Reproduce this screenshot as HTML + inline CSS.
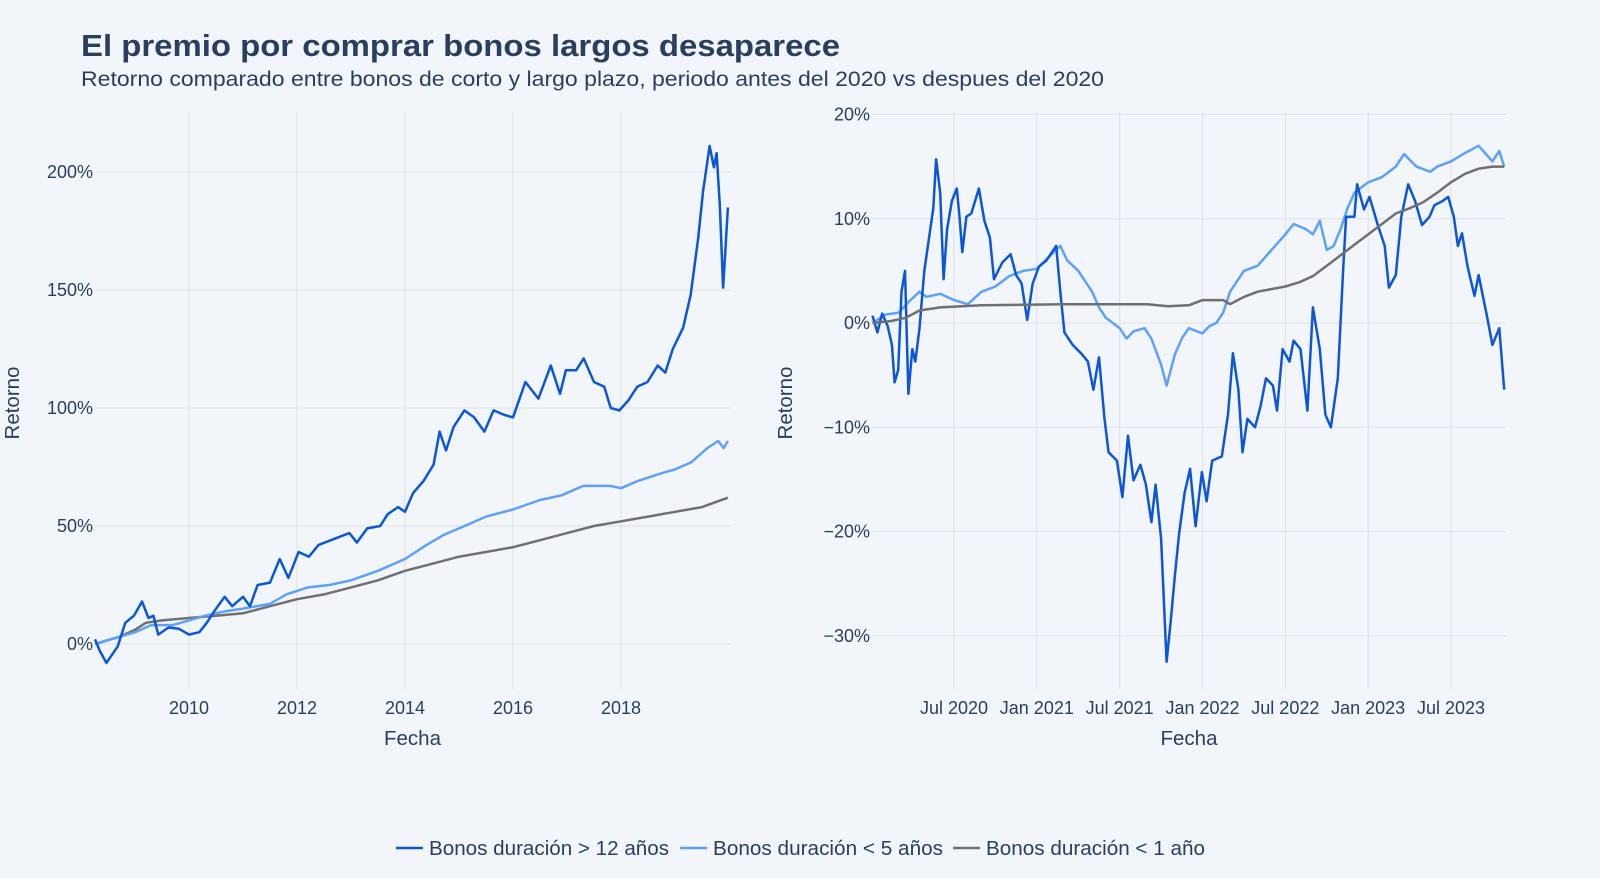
<!DOCTYPE html>
<html><head><meta charset="utf-8"><style>
body{margin:0;background:#f2f5fa;}
svg{display:block;font-family:"Liberation Sans",Arial,sans-serif;}
</style></head><body>
<svg id="c" width="1600" height="878" viewBox="0 0 1600 878">
<rect width="1600" height="878" fill="#f2f5fa"/>
<text x="81" y="56" font-size="31" font-weight="bold" fill="#2a3f5f" textLength="759" lengthAdjust="spacingAndGlyphs">El premio por comprar bonos largos desaparece</text>
<text x="81" y="86" font-size="21" fill="#2a3f5f" textLength="1023" lengthAdjust="spacingAndGlyphs">Retorno comparado entre bonos de corto y largo plazo, periodo antes del 2020 vs despues del 2020</text>
<g id="left"></g>
<g id="right"></g>
<g font-size="20" fill="#2a3f5f">
<g><line x1="396" y1="848" x2="423" y2="848" stroke="#0b57d8" stroke-width="2.5"/><text x="429" y="855" textLength="240" lengthAdjust="spacingAndGlyphs">Bonos duración &gt; 12 años</text></g>
<g><line x1="680" y1="848" x2="707" y2="848" stroke="#5ea1fa" stroke-width="2.5"/><text x="713" y="855" textLength="230" lengthAdjust="spacingAndGlyphs">Bonos duración &lt; 5 años</text></g>
<g><line x1="953" y1="848" x2="980" y2="848" stroke="#707070" stroke-width="2.5"/><text x="986" y="855" textLength="219" lengthAdjust="spacingAndGlyphs">Bonos duración &lt; 1 año</text></g>
</g>
</svg>
<script>
// Left panel data (year, %)
const leftLongX=[2008.26,2008.35,2008.47,2008.68,2008.82,2008.98,2009.13,2009.25,2009.34,2009.43,2009.62,2009.81,2010,2010.19,2010.33,2010.47,2010.66,2010.8,2011,2011.13,2011.27,2011.5,2011.68,2011.84,2012.03,2012.22,2012.4,2012.74,2012.97,2013.11,2013.3,2013.54,2013.68,2013.87,2014,2014.15,2014.34,2014.53,2014.64,2014.76,2014.9,2015.1,2015.28,2015.47,2015.64,2015.85,2016,2016.23,2016.47,2016.7,2016.87,2016.98,2017.17,2017.31,2017.5,2017.69,2017.81,2017.97,2018.13,2018.3,2018.49,2018.68,2018.82,2018.96,2019.15,2019.29,2019.43,2019.52,2019.64,2019.72,2019.77,2019.83,2019.89,2019.92,2019.98];
const leftLongY=[2,-3,-8,-1,9,12,18,11,12,4,7,6.5,4,5,9,14,20,16,20,16,25,26,36,28,39,37,42,45,47,43,49,50,55,58,56,64,69,76,90,82,92,99,96,90,99,97,96,111,104,118,106,116,116,121,111,109,100,99,103,109,111,118,115,125,134,148,172,192,211,202,208,186,151,162,185];
const leftMedX=[2008.26,2009,2009.3,2009.7,2010,2010.3,2010.7,2011,2011.5,2011.8,2012.2,2012.6,2013,2013.5,2014,2014.4,2014.7,2015,2015.5,2016,2016.5,2016.9,2017.3,2017.8,2018,2018.3,2018.7,2019,2019.3,2019.6,2019.8,2019.9,2019.98];
const leftMedY=[0,5,8,8,10,12,14,15,17,21,24,25,27,31,36,42,46,49,54,57,61,63,67,67,66,69,72,74,77,83,86,83,86];
const leftShortX=[2008.26,2008.7,2009,2009.2,2009.5,2010,2010.5,2011,2011.5,2012,2012.5,2013,2013.5,2014,2014.5,2015,2015.5,2016,2016.5,2017,2017.5,2018,2018.5,2019,2019.5,2019.98];
const leftShortY=[0,3,6,9,10,11,12,13,16,19,21,24,27,31,34,37,39,41,44,47,50,52,54,56,58,62];
const leftXTicks=[2010,2012,2014,2016,2018];
const leftYTicks=[0,50,100,150,200];
// Right panel data (months since Jan 2020, %)
const rightLongX=[0.1,0.45,0.8,1.2,1.5,1.7,1.96,2.2,2.45,2.7,2.98,3.2,3.5,3.85,4.2,4.5,4.7,5,5.25,5.5,5.85,6.2,6.4,6.6,6.9,7.25,7.8,8.2,8.6,8.9,9.5,10.1,10.5,10.9,11.3,11.7,12.15,12.7,13.4,13.7,14,14.6,15.2,15.7,16.1,16.5,16.9,17.2,17.8,18.2,18.6,19,19.5,19.9,20.3,20.6,21,21.4,21.7,22,22.3,22.7,23.1,23.5,23.96,24.3,24.7,25.4,25.85,26.2,26.6,26.9,27.25,27.8,28.2,28.6,29.1,29.4,29.8,30.3,30.6,31.1,31.6,32,32.5,32.9,33.3,33.8,34.2,34.4,35,35.2,35.7,36.1,36.7,37.2,37.5,38,38.4,38.9,39.4,39.9,40.45,40.8,41.4,41.8,42.2,42.5,42.8,43.2,43.7,44,44.6,45,45.5,45.85];
const rightLongY=[0.7,-0.9,0.9,-0.3,-2.1,-5.7,-4.5,3,5,-6.8,-2.5,-3.7,-0.5,5,8.2,11,15.7,12.5,4.2,9,11.7,12.9,10.2,6.8,10.2,10.5,12.9,9.8,8.2,4.2,5.8,6.6,4.6,3.8,0.3,3.8,5.4,6,7.4,3,-0.9,-2.1,-2.9,-3.7,-6.4,-3.3,-9.2,-12.4,-13.2,-16.7,-10.8,-15.1,-13.6,-15.5,-19.1,-15.5,-20.7,-32.5,-28.6,-24.2,-20.3,-16.3,-14,-19.5,-14.3,-17.1,-13.2,-12.8,-8.8,-2.9,-6.4,-12.4,-9.2,-10,-8,-5.3,-6,-8.4,-2.5,-3.7,-1.7,-2.5,-8.4,1.5,-2.5,-8.8,-10,-5.3,5.4,10.2,10.2,13.3,10.9,12.1,9.4,7.4,3.4,4.6,10.2,13.3,11.7,9.4,10.2,11.3,11.7,12.1,10.2,7.4,8.6,5.4,2.6,4.6,0.7,-2.1,-0.5,-6.4];
const rightMedX=[0.1,1,2,2.7,3.5,4,5,6,7,8,9,10,11,12,13,13.7,14.2,15,16,16.5,17,18,18.5,19,19.8,20.3,21,21.4,22,22.5,23,24,24.5,25,25.5,26,27,28,29,30,30.6,31.5,32,32.5,33,33.5,34,34.5,35,36,37,38,38.6,39.5,40.5,41,42,43,44,45,45.5,45.85];
const rightMedY=[0,0.8,1,2,3,2.5,2.8,2.2,1.8,3,3.5,4.5,5,5.2,6.5,7.4,6,5,3,1.5,0.5,-0.5,-1.5,-0.8,-0.5,-1.5,-4,-6,-3,-1.5,-0.5,-1,-0.3,0,1,3,5,5.5,7,8.5,9.5,9,8.5,9.8,7,7.4,9,11,12.5,13.5,14,15,16.2,15,14.5,15,15.5,16.3,17,15.5,16.5,15];
const rightShortX=[0.1,1.5,2.5,3.5,5,8,14,20,21.5,23,24,25.5,26,27,28,30,31,32,33,34,35,36,37,38,39,40,41,42,43,44,45,45.85];
const rightShortY=[0,0.2,0.5,1.2,1.5,1.7,1.8,1.8,1.6,1.7,2.2,2.2,1.8,2.5,3,3.5,3.9,4.5,5.5,6.5,7.5,8.5,9.5,10.5,11,11.6,12.5,13.5,14.3,14.8,15,15];
const rightXTicks=[6,12,18,24,30,36,42];
const rightXTickLabels=["Jul 2020","Jan 2021","Jul 2021","Jan 2022","Jul 2022","Jan 2023","Jul 2023"];
const rightYTicks=[-30,-20,-10,0,10,20];

const NS="http://www.w3.org/2000/svg";
function mk(parent,tag,attrs){const e=document.createElementNS(NS,tag);for(const k in attrs)e.setAttribute(k,attrs[k]);parent.appendChild(e);return e;}
function panel(g,o){
  const sx=v=>o.x0+(v-o.d0)/(o.d1-o.d0)*(o.x1-o.x0);
  const sy=v=>o.y0+(v-o.v0)/(o.v1-o.v0)*(o.y1-o.y0);
  o.xt.forEach((t,i)=>{
    const l=mk(g,'line',{x1:sx(t),x2:sx(t),y1:o.top,y2:o.bot,stroke:'#dde1e7','stroke-width':1});
    
    
    const tx=mk(g,'text',{x:sx(t),y:714,'text-anchor':'middle','font-size':18,fill:'#2a3f5f'});
    tx.textContent=o.xl[i];
    
    
  });
  o.yt.forEach(t=>{
    const l=mk(g,'line',{x1:o.left,x2:o.right,y1:sy(t),y2:sy(t),stroke:'#dde1e7','stroke-width':1});
    
    
    const tx=mk(g,'text',{x:o.left-2,y:sy(t)+6,'text-anchor':'end','font-size':18,fill:'#2a3f5f'});
    tx.textContent=(t<0?'\u2212'+(-t):t)+'%';
    
    
  });
  o.series.forEach(s=>{
    const d=s.x.map((v,i)=>(i?'L':'M')+sx(v).toFixed(1)+' '+sy(s.y[i]).toFixed(1)).join(' ');
    const p=mk(g,'path',{d:d,fill:'none',stroke:s.c,'stroke-width':2.5,'stroke-linejoin':'round'});
    
    
  });
  const xt=mk(g,'text',{x:(o.left+o.right)/2,y:745,'text-anchor':'middle','font-size':20.5,fill:'#2a3f5f'});
  xt.textContent='Fecha';
  
  
  const yt=mk(g,'text',{x:0,y:0,'text-anchor':'middle','font-size':20.5,fill:'#2a3f5f',transform:'translate('+o.ytx+',403) rotate(-90)'});
  yt.textContent='Retorno';
  
  
}
panel(document.getElementById('left'),{x0:189,x1:621,d0:2010,d1:2018,y0:644,y1:172,v0:0,v1:200,left:95,right:730,top:112,bot:689,
  xt:leftXTicks,xl:leftXTicks.map(String),yt:leftYTicks,ytx:19,
  series:[{x:leftShortX,y:leftShortY,c:'#707070',n:'line-short-bonds-left'},{x:leftMedX,y:leftMedY,c:'#5ea1fa',n:'line-medium-bonds-left'},{x:leftLongX,y:leftLongY,c:'#0b57d8',n:'line-long-bonds-left'}]});
panel(document.getElementById('right'),{x0:954,x1:1451,d0:6,d1:42,y0:323,y1:114.5,v0:0,v1:20,left:872,right:1506,top:112,bot:689,
  xt:rightXTicks,xl:rightXTickLabels,yt:rightYTicks,ytx:792,
  series:[{x:rightMedX,y:rightMedY,c:'#5ea1fa',n:'line-medium-bonds-right'},{x:rightLongX,y:rightLongY,c:'#0b57d8',n:'line-long-bonds-right'},{x:rightShortX,y:rightShortY,c:'#707070',n:'line-short-bonds-right'}]});
</script>
</body></html>
